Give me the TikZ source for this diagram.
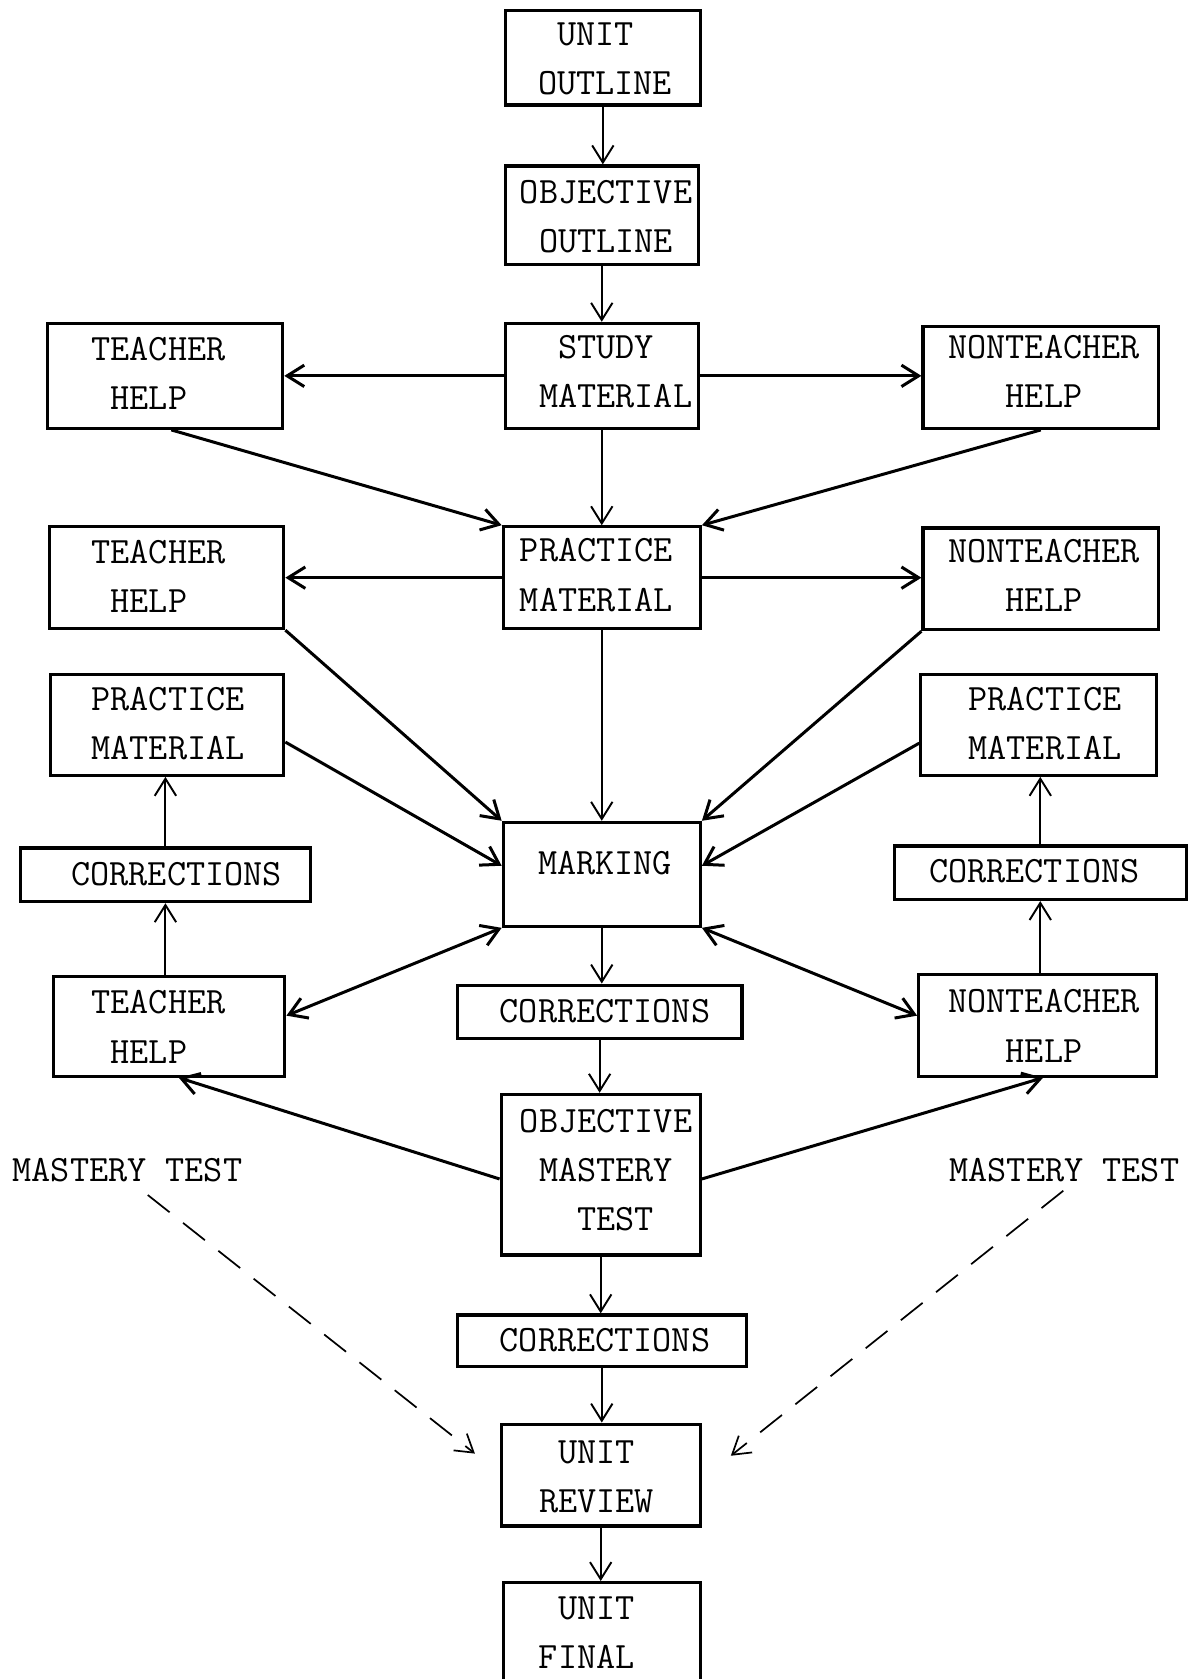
\documentclass[tikz,border=0pt]{standalone}
\usepackage{fontspec}
\usetikzlibrary{arrows.meta,calc}
\newcommand\chs{\hphantom{X}}
\begin{document}
\begin{tikzpicture}[x=1pt,y=-1pt,
  box/.style 2 args={draw, line width=3pt, minimum width=#1pt, minimum height=#2pt, inner sep=0pt},
  txt/.style={font=\ttfamily\fontsize{34.7}{46}\selectfont, align=left, inner sep=0pt},
  conn/.style={line width=1.8pt, -{Straight Barb[length=16pt,width=20pt]}},
  heavy/.style={conn, line width=2.8pt},
  dbl/.style={line width=2.8pt, {Straight Barb[length=16pt,width=20pt]}-{Straight Barb[length=16pt,width=20pt]}},
  dasharrow/.style={conn, line width=1.6pt, dash pattern=on 26pt off 16pt}]
\fill[white] (0,0) rectangle (1114,1568);
\useasboundingbox (0,0) rectangle (1114,1568);
% boxes
\node[box={182}{88}] (uo) at (563,54) {};
\node[box={180}{92}] (oo) at (562,201) {};
\node[box={180}{98}] (sm) at (562,351) {};
\node[box={220}{98}] (th1) at (154,351) {};
\node[box={220}{95}] (nt1) at (972,352.5) {};
\node[box={184}{95}] (pmc) at (562,539.5) {};
\node[box={219}{95}] (th2) at (155.5,539.5) {};
\node[box={220}{95}] (nt2) at (972,540.5) {};
\node[box={218}{94}] (pml) at (156,677) {};
\node[box={220}{94}] (pmr) at (970,677) {};
\node[box={271}{50}] (cl) at (154.5,817) {};
\node[box={273}{50}] (cr) at (971.5,815) {};
\node[box={184}{97}] (mk) at (562,816.5) {};
\node[box={266}{50}] (cc) at (560,945) {};
\node[box={216}{93}] (th3) at (158,958.5) {};
\node[box={222}{95}] (nt3) at (969,957.5) {};
\node[box={186}{150}] (omt) at (561,1097) {};
\node[box={270}{48}] (cb) at (562,1252) {};
\node[box={186}{95}] (ur) at (561,1377.5) {};
\node[box={184}{100}] (uf) at (562,1528) {};
% texts
\node[txt] (uo-t) at (565,55) {\chs UNIT\\OUTLINE};
\node[txt] (oo-t) at (566,202) {OBJECTIVE\\\chs OUTLINE};
\node[txt] (sm-t) at (575,347) {\chs STUDY\\MATERIAL};
\node[txt] (th1-t) at (148,349) {TEACHER\\\chs HELP};
\node[txt] (nt1-t) at (975,347) {NONTEACHER\\\chs\chs\chs HELP};
\node[txt] (pmc-t) at (557,537) {PRACTICE\\MATERIAL};
\node[txt] (th2-t) at (148,538) {TEACHER\\\chs HELP};
\node[txt] (nt2-t) at (975,537) {NONTEACHER\\\chs\chs\chs HELP};
\node[txt] (pml-t) at (157,676) {PRACTICE\\MATERIAL};
\node[txt] (pmr-t) at (976,676) {PRACTICE\\MATERIAL};
\node[txt] (cl-t) at (165,816) {CORRECTIONS};
\node[txt] (cr-t) at (966,814) {CORRECTIONS};
\node[txt] (mk-t) at (565,806) {MARKING};
\node[txt] (cc-t) at (565,944) {CORRECTIONS};
\node[txt] (th3-t) at (148,959) {TEACHER\\\chs HELP};
\node[txt] (nt3-t) at (975,958) {NONTEACHER\\\chs\chs\chs HELP};
\node[txt] (omt-t) at (566,1093) {OBJECTIVE\\\chs MASTERY\\\chs\chs\chs TEST};
\node[txt] (mtl) at (119,1093) {MASTERY TEST};
\node[txt] (mtr) at (994,1093) {MASTERY TEST};
\node[txt] (cb-t) at (565,1252) {CORRECTIONS};
\node[txt] (ur-t) at (557,1379) {\chs UNIT\\REVIEW};
\node[txt] (uf-t) at (548,1525) {\chs UNIT\\FINAL};
% connectors
\draw[conn] (uo.south) -- (uo.south |- oo.north);
\draw[conn] (oo.south) -- (oo.south |- sm.north);
\draw[heavy] (sm.west) -- (sm.west -| th1.east);
\draw[heavy] (sm.east) -- (sm.east -| nt1.west);
\draw[conn] (sm.south) -- (sm.south |- pmc.north);
\draw[heavy] ([xshift=6pt]th1.south) -- (pmc.north west);
\draw[heavy] (nt1.south) -- (pmc.north east);
\draw[heavy] (pmc.west) -- (pmc.west -| th2.east);
\draw[heavy] (pmc.east) -- (pmc.east -| nt2.west);
\draw[conn] (pmc.south) -- (pmc.south |- mk.north);
\draw[heavy] (th2.south east) -- (mk.north west);
\draw[heavy] (nt2.south west) -- (mk.north east);
\draw[heavy] ([yshift=-16pt]pml.east) -- ([yshift=8pt]mk.west);
\draw[heavy] ([yshift=-17pt]pmr.west) -- ([yshift=8pt]mk.east);
\draw[conn] (cl.north) -- (cl.north |- pml.south);
\draw[conn] (cl.south |- th3.north) -- (cl.south);
\draw[conn] (cr.south |- nt3.north) -- (cr.south);
\draw[conn] (cr.north) -- (cr.north |- pmr.south);
\draw[dbl] (mk.south west) -- ([yshift=10pt]th3.east);
\draw[dbl] (mk.south east) -- ([yshift=9pt]nt3.west);
\draw[conn] (mk.south) -- (mk.south |- cc.north);
\draw[conn] (cc.south) -- (cc.south |- omt.north);
\draw[heavy] ([yshift=-4pt]omt.west) -- ([xshift=9pt]th3.south);
\draw[heavy] ([yshift=-4pt]omt.east) -- ([xshift=5pt]nt3.south);
\draw[conn] (omt.south) -- (omt.south |- cb.north);
\draw[conn] (cb.south) -- (cb.south |- ur.north);
\draw[conn] (ur.south) -- (ur.south |- uf.north);
\draw[dasharrow] ([xshift=19pt,yshift=-23pt]mtl.center) -- ([xshift=-23pt,yshift=20pt]ur.west);
\draw[dasharrow] ([xshift=-1pt,yshift=-19pt]mtr.center) -- ([xshift=27pt,yshift=18pt]ur.east);
\end{tikzpicture}
\end{document}
